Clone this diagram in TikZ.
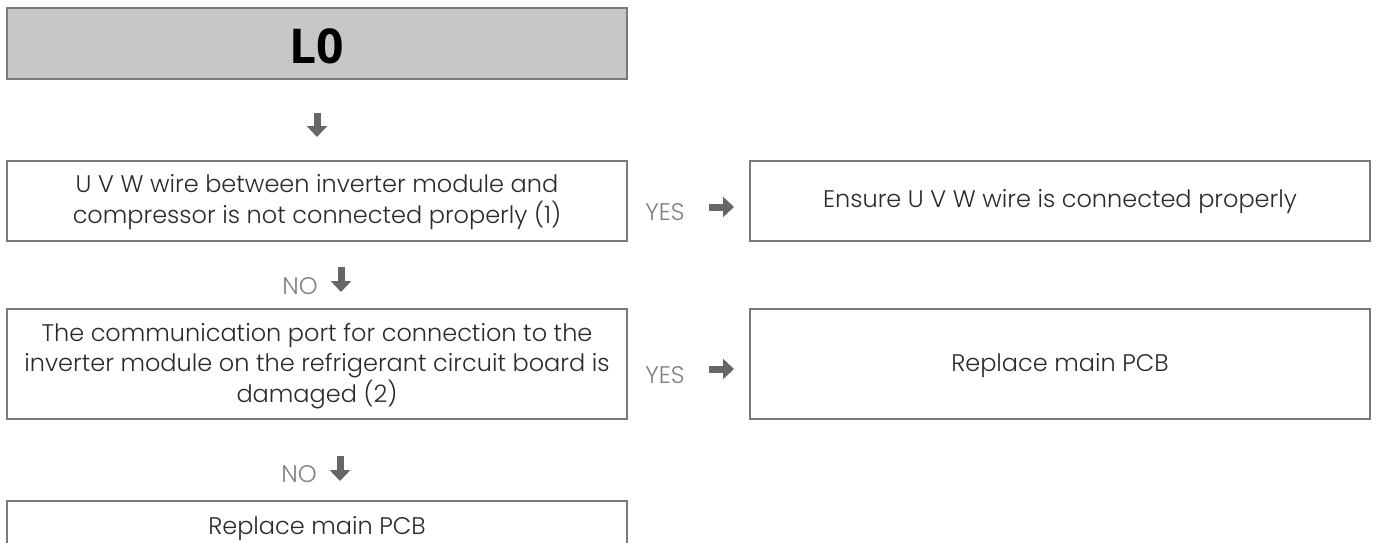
\documentclass[tikz,border=0pt]{standalone}
\usepackage{fontspec}
\setmainfont{Poppins Light}
\newfontfamily\boldfont{Open Sans Bold}
\usetikzlibrary{arrows.meta}
\definecolor{boxgray}{HTML}{C6C7C9}
\definecolor{edgegray}{HTML}{7A7A7A}
\definecolor{txt}{HTML}{2A2A2A}
\definecolor{lbl}{HTML}{808080}
\definecolor{arr}{HTML}{666666}
\tikzset{
  box/.style={draw=edgegray, line width=1.4pt},
  boxtext/.style={text=txt, align=center, font=\fontsize{24}{30.5}\selectfont, inner sep=0pt},
  lab/.style={text=lbl, font=\fontsize{24}{26}\selectfont, inner sep=0pt},
  blockarrow/.style={draw=arr, line width=7pt, -{Triangle[width=20pt,length=11pt]}, shorten >=0pt}
}
\begin{document}
\begin{tikzpicture}[x=1pt,y=-1pt]
\useasboundingbox (0,0) rectangle (1378,543);
% boxes
\draw[box, fill=boxgray] (7,8) rectangle (627,79);
\node[font=\boldfont\fontsize{48}{50}\selectfont, inner sep=0pt] (L0) at (317,46) {L0};
\draw[box] (7,161) rectangle (627,241);
\node[boxtext] (b1) at (317,202) {U V W wire between inverter module and\\compressor is not connected properly (1)};
\draw[box] (750,161) rectangle (1370,241);
\node[boxtext] (r1) at (1060,202) {Ensure U V W wire is connected properly};
\draw[box] (7,309) rectangle (627,419);
\node[boxtext] (b2) at (317,366) {The communication port for connection to the\\inverter module on the refrigerant circuit board is\\damaged (2)};
\draw[box] (750,309) rectangle (1370,419);
\node[boxtext] (r2) at (1060,366) {Replace main PCB};
\draw[box] (7,501) rectangle (627,565);
\node[boxtext] (b3) at (317,529) {Replace main PCB};
% labels
\node[lab] (yes1) at (665,212) {YES};
\node[lab] (yes2) at (665,375) {YES};
\node[lab] (no1) at (300,286) {NO};
\node[lab] (no2) at (299,474) {NO};
% arrows
\coordinate (a0s) at (317,113);
\coordinate (a0e) at (317,137);
\draw[blockarrow] (a0s) -- (a0e);
\coordinate (a1s) at (709,207);
\coordinate (a1e) at (734,207);
\draw[blockarrow] (a1s) -- (a1e);
\coordinate (a2s) at (709,369);
\coordinate (a2e) at (734,369);
\draw[blockarrow] (a2s) -- (a2e);
\coordinate (n1s) at (341,267);
\coordinate (n1e) at (341,292);
\draw[blockarrow] (n1s) -- (n1e);
\coordinate (n2s) at (340,456);
\coordinate (n2e) at (340,481);
\draw[blockarrow] (n2s) -- (n2e);
\end{tikzpicture}
\end{document}
